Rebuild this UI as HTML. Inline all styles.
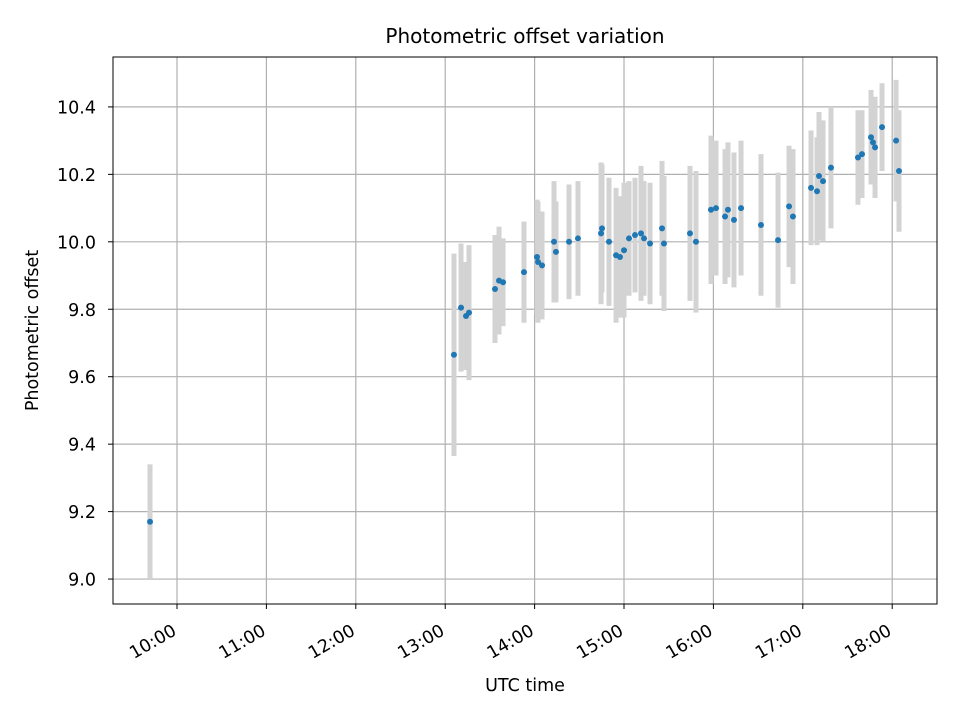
<!DOCTYPE html>
<html><head><meta charset="utf-8"><style>
body{margin:0;background:#fff;font-family:"Liberation Sans","DejaVu Sans",sans-serif}
svg text{font-family:"DejaVu Sans","Liberation Sans",sans-serif}
</style></head><body>
<svg id="chart" width="960" height="720" xmlns="http://www.w3.org/2000/svg"></svg>
<script>
const times=[9.698,13.098,13.177,13.233,13.266,13.557,13.602,13.647,13.881,14.027,14.038,14.083,14.217,14.239,14.385,14.485,14.743,14.754,14.832,14.911,14.955,15.000,15.056,15.123,15.190,15.224,15.291,15.425,15.447,15.738,15.805,15.973,16.029,16.130,16.163,16.230,16.309,16.532,16.723,16.846,16.890,17.092,17.159,17.181,17.226,17.315,17.617,17.662,17.763,17.785,17.808,17.886,18.043,18.076];
const values=[9.17,9.665,9.805,9.78,9.79,9.86,9.885,9.88,9.91,9.955,9.94,9.93,10.0,9.97,10.0,10.01,10.025,10.04,10.0,9.96,9.955,9.975,10.01,10.02,10.025,10.01,9.995,10.04,9.995,10.025,10.0,10.095,10.1,10.075,10.095,10.065,10.1,10.05,10.005,10.105,10.075,10.16,10.15,10.195,10.18,10.22,10.25,10.26,10.31,10.295,10.28,10.34,10.30,10.21];
const errors=[0.17,0.3,0.19,0.16,0.2,0.16,0.16,0.13,0.15,0.17,0.18,0.16,0.18,0.15,0.17,0.17,0.21,0.19,0.19,0.2,0.18,0.2,0.17,0.17,0.2,0.17,0.18,0.2,0.2,0.2,0.21,0.22,0.2,0.2,0.2,0.2,0.2,0.21,0.2,0.18,0.2,0.17,0.16,0.19,0.18,0.18,0.14,0.13,0.14,0.12,0.15,0.13,0.18,0.18];
const xTicks=[10,11,12,13,14,15,16,17,18];
const xTickLabels=["10:00","11:00","12:00","13:00","14:00","15:00","16:00","17:00","18:00"];
const yTicks=[9.0,9.2,9.4,9.6,9.8,10.0,10.2,10.4];
const yTickLabels=["9.0","9.2","9.4","9.6","9.8","10.0","10.2","10.4"];
const L=113,R=937,T=57,B=604;
const x0=9.284,x1=18.501,y0=8.926,y1=10.548;
const sx=v=>L+(v-x0)/(x1-x0)*(R-L);
const sy=v=>B-(v-y0)/(y1-y0)*(B-T);
const svg=document.getElementById('chart');
const NS='http://www.w3.org/2000/svg';
function mk(tag,attrs,parent){const e=document.createElementNS(NS,tag);for(const k in attrs)e.setAttribute(k,attrs[k]);(parent||svg).appendChild(e);return e;}
const grid=mk('g',{});


xTicks.forEach((t,i)=>{
  const x=sx(t);
  const gl=mk('line',{x1:x,x2:x,y1:T,y2:B,stroke:'#b0b0b0','stroke-width':1.2},grid);
  
  
  mk('line',{x1:x,x2:x,y1:B,y2:B+5,stroke:'#000','stroke-width':1});
  const ax=x+0.5, ay=B+30;
  const tx=mk('text',{x:ax,y:ay,'font-size':17.5,'text-anchor':'end',transform:`rotate(-30 ${ax} ${ay})`});
  tx.textContent=xTickLabels[i];
  
  
});
yTicks.forEach((t,i)=>{
  const y=sy(t);
  const gl=mk('line',{x1:L,x2:R,y1:y,y2:y,stroke:'#b0b0b0','stroke-width':1.2},grid);
  
  
  mk('line',{x1:L-5,x2:L,y1:y,y2:y,stroke:'#000','stroke-width':1});
  const tx=mk('text',{x:L-17,y:y+6.5,'font-size':17.5,'text-anchor':'end'});
  tx.textContent=yTickLabels[i];
  
  
});
const eg=mk('g',{});


times.forEach((t,i)=>{
  const e=mk('line',{x1:sx(t),x2:sx(t),y1:sy(values[i]-errors[i]),y2:sy(values[i]+errors[i]),stroke:'#d3d3d3','stroke-width':5},eg);
  
  
});
const pg=mk('g',{});


times.forEach((t,i)=>{
  const c=mk('circle',{cx:sx(t),cy:sy(values[i]),r:3,fill:'#1f77b4'},pg);
  
  
});
const fr=mk('rect',{x:L,y:T,width:R-L,height:B-T,fill:'none',stroke:'#000','stroke-width':1});


const ti=mk('text',{x:(L+R)/2,y:43,'font-size':20,'text-anchor':'middle'});
ti.textContent='Photometric offset variation';


const xl=mk('text',{x:(L+R)/2,y:691,'font-size':17.5,'text-anchor':'middle'});
xl.textContent='UTC time';


const yl=mk('text',{x:38,y:(T+B)/2,'font-size':17.5,'text-anchor':'middle',transform:`rotate(-90 38 ${(T+B)/2})`});
yl.textContent='Photometric offset';


</script>
</body></html>
